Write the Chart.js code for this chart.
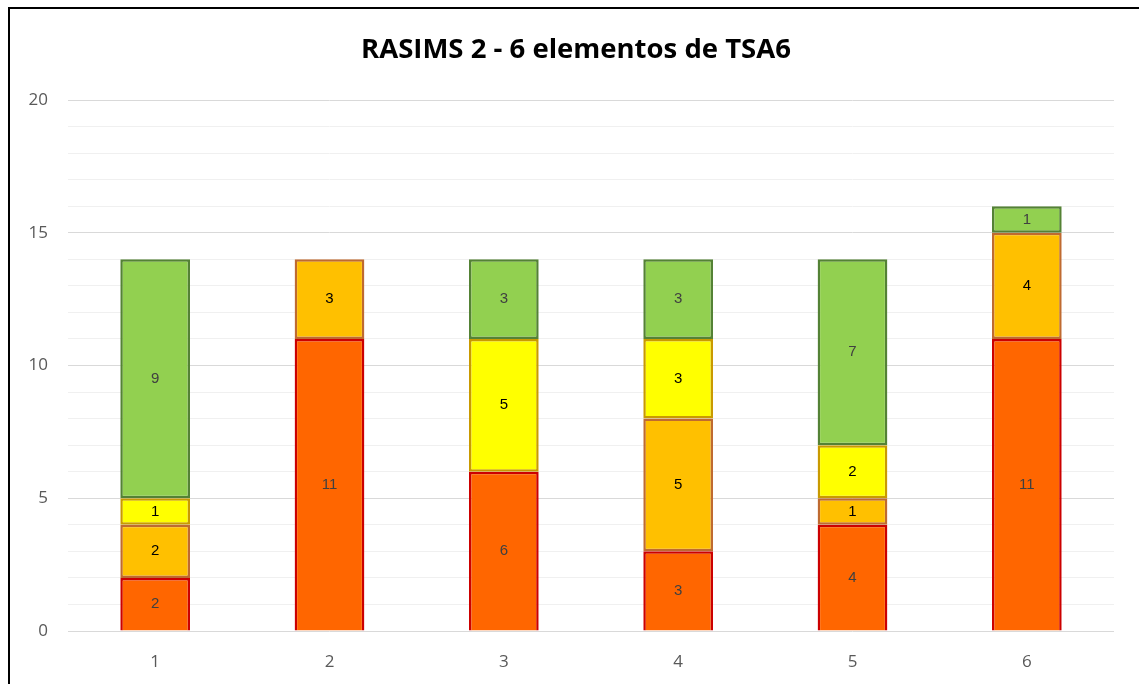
<!DOCTYPE html>
<html>
<head>
<meta charset="utf-8">
<script src="https://cdn.jsdelivr.net/npm/chart.js@4"></script>
<style>
  html, body { margin: 0; padding: 0; background: #fff; }
  #wrap { position: relative; width: 1139px; height: 684px; }
</style>
</head>
<body>
<div id="wrap"><canvas id="chart" width="1139" height="684"></canvas></div>
<script>
const categories = ['1', '2', '3', '4', '5', '6'];
const seriesRed = [2, 11, 6, 3, 4, 11];
const seriesOrange = [2, 3, 0, 5, 1, 4];
const seriesYellow = [1, 0, 5, 3, 2, 0];
const seriesGreen = [9, 0, 3, 3, 7, 1];
const yTicks = [0, 5, 10, 15, 20];
const chartTitle = 'RASIMS 2 - 6 elementos de TSA6';

// zero segments are not drawn
const nz = arr => arr.map(v => v === 0 ? null : v);

// centred value labels on each segment
const segmentLabels = {
  id: 'segmentLabels',
  afterDatasetsDraw(chart) {
    const ctx = chart.ctx;
    ctx.save();
    ctx.font = '15px "Liberation Sans", Arial, sans-serif';
    ctx.textAlign = 'center';
    ctx.textBaseline = 'middle';
    chart.data.datasets.forEach((ds, i) => {
      const meta = chart.getDatasetMeta(i);
      ctx.fillStyle = ds.labelColor;
      meta.data.forEach((bar, j) => {
        const v = ds.data[j];
        if (!v) return;
        ctx.fillText(String(v), bar.x, (bar.y + bar.base) / 2);
      });
    });
    ctx.restore();
  }
};

// outer frame + title centred on the whole frame
const frame = {
  id: 'frame',
  afterDraw(chart) {
    const ctx = chart.ctx;
    ctx.save();
    ctx.strokeStyle = '#000';
    ctx.lineWidth = 2;
    ctx.beginPath();
    ctx.moveTo(9, 684);
    ctx.lineTo(9, 8);
    ctx.lineTo(1139, 8);
    ctx.stroke();
    ctx.fillStyle = '#000';
    ctx.font = 'bold 27.5px "Open Sans", sans-serif';
    ctx.textAlign = 'center';
    ctx.textBaseline = 'middle';
    ctx.fillText(chartTitle, 576, 50);
    ctx.restore();
  }
};

const ctx = document.getElementById('chart');
new Chart(ctx, {
  type: 'bar',
  data: {
    labels: categories,
    datasets: [
      { data: nz(seriesRed), backgroundColor: '#FF6600', borderColor: '#CC0000', borderWidth: 2.5, borderSkipped: 'start', labelColor: '#404040' },
      { data: nz(seriesOrange), backgroundColor: '#FFC000', borderColor: '#BF6A30', borderWidth: 2.5, borderSkipped: false, labelColor: '#000' },
      { data: nz(seriesYellow), backgroundColor: '#FFFF00', borderColor: '#C99A00', borderWidth: 2.5, borderSkipped: false, labelColor: '#000' },
      { data: nz(seriesGreen), backgroundColor: '#92D050', borderColor: '#548235', borderWidth: 2.5, borderSkipped: false, labelColor: '#404040' }
    ]
  },
  options: {
    responsive: false,
    animation: false,
    layout: { padding: { top: 100, right: 25, bottom: 0, left: 0 } },
    datasets: { bar: { categoryPercentage: 1, barPercentage: 0.4 } },
    plugins: {
      legend: { display: false },
      tooltip: { enabled: false },
      title: { display: false }
    },
    scales: {
      x: {
        stacked: true,
        grid: { display: false },
        border: { display: false },
        ticks: { color: '#595959', font: { family: '"Open Sans", sans-serif', size: 17 }, padding: 13 },
        afterFit: s => { s.height = 53; }
      },
      y: {
        stacked: true,
        min: 0,
        max: 20,
        border: { display: false },
        grid: {
          drawTicks: false,
          color: c => (c.tick && c.tick.value % 5 === 0) ? '#d9d9d9' : '#f0f0f0',
          lineWidth: 1
        },
        ticks: {
          stepSize: 1,
          autoSkip: false,
          color: '#595959',
          font: { family: '"Open Sans", sans-serif', size: 17 },
          padding: 20,
          callback: v => yTicks.includes(v) ? String(v) : ''
        },
        afterFit: s => { s.width = 68; }
      }
    }
  },
  plugins: [segmentLabels, frame]
});
</script>
</body>
</html>
